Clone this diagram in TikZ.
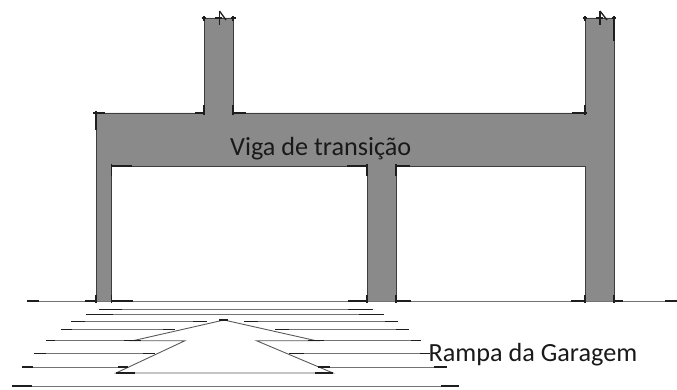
\documentclass[tikz,border=0pt]{standalone}
\usepackage{fontspec}
\setmainfont{Carlito}
\definecolor{wall}{RGB}{138,138,138}
\definecolor{ink}{RGB}{30,30,30}
\tikzset{
  x=1pt,y=-1pt,
  wallfill/.style={fill=wall,draw=none},
  edge/.style={draw=ink!70!wall,line width=0.8pt},
  tick/.style={draw=ink,line width=1.3pt},
  ramp/.style={draw=black!55,line width=0.9pt},
  outline/.style={draw=black!65,line width=0.9pt},
  label/.style={font=\fontsize{26.2}{30}\selectfont,text=black!90,inner sep=0pt,anchor=base west}
}
\begin{document}
\begin{tikzpicture}
\useasboundingbox (0,0) rectangle (677,390);
% structure
\path[wallfill] (204,18)--(233,18)--(233,113)--(585,113)--(585,18)--(614,18)--(614,301)--(585,301)--(585,166)--(396,166)--(396,301)--(367,301)--(367,166)--(111.5,166)--(111.5,301)--(96,301)--(96,113)--(204,113)--cycle;
\draw[edge] (204,18)--(204,113)--(96,113)--(96,301);
\draw[edge] (233,18)--(233,113)--(585,113)--(585,18);
\draw[edge] (204,18)--(233,18);
\draw[edge] (585,18)--(614,18)--(614,301);
\draw[edge] (111.5,301)--(111.5,166)--(367,166)--(367,301);
\draw[edge] (396,301)--(396,166)--(585,166)--(585,301);
% ground
\draw[ramp] (27,301)--(677,301);
% ticks on structure
\foreach \a/\b/\c/\d in {
 201.5/18/206/18, 204/16/204/21, 231/18/235.5/18, 233/16/233/21,
 215/18/222/18, 219.5/11/219.5/25, 219.5/11/226/20,
 582.5/18/587/18, 585/16/585/21, 596/18/603/18, 612/18/616/18, 614/16/614/41,
 600/11/600/25, 600/11/607/20,
 93/113/105/113, 96/111/96/130,
 195/113/204/113, 204/105/204/115, 233/105/233/115, 233/113/246/113,
 572/113/587/113, 585/105/585/115,
 111/166/132/166, 111.5/164/111.5/176,
 347/166/367/166, 367/164/367/176,
 396/166/410/166, 396/164/396/176,
 27/301/39/301, 85/301/97/301, 111/301/133/301, 96/295/96/303, 111.5/295/111.5/303,
 348/301/367/301, 367/295/367/303, 396/301/411/301, 396/295/396/303,
 571/301/585/301, 585/295/585/303, 614/295/614/303, 614/301/623/301, 665/301/677/301}
 {\draw[tick] (\a,\b)--(\c,\d);}
% ramp lines
\foreach \a/\y/\b in {99/309.7/373, 86/314.3/384, 71/321.7/207, 244/321.7/398, 61/329.3/175, 275/329.3/409,
 46/340.7/133, 316/340.7/421, 34/353.3/155, 289/353.3/430, 22/367/128, 318/367/447, 12/386/459}
 {\draw[ramp] (\a,\y)--(\b,\y);}
\draw[outline] (133,340.7)--(224,320)--(316,340.7)--(256.5,340.7)--(333,373)--(116,373)--(185,340.7)--cycle;
% ramp ticks
\foreach \a/\y/\b in {99/309.7/122, 348/309.7/373, 86/314.3/113, 359/314.3/384, 71/321.7/85, 193/321.7/207, 244/321.7/258, 385/321.7/398,
 61/329.3/72, 163/329.3/175, 275/329.3/289, 396/329.3/409,
 46/340.7/55, 124/340.7/141, 308/340.7/324, 411/340.7/421,
 34/353.3/46, 143/353.3/155, 289/353.3/304, 420/353.3/430,
 22/367/33, 118/367/128, 318/367/330, 434/367/447,
 116/373/135, 315/373/333, 12/386/32, 441/386/459, 219/320/228}
 {\draw[tick] (\a,\y)--(\b,\y);}
% labels
\node[label] (viga) at (230,155.5) {Viga de transição};
\node[label] (rampa) at (428.5,361) {Rampa da Garagem};
\end{tikzpicture}
\end{document}
